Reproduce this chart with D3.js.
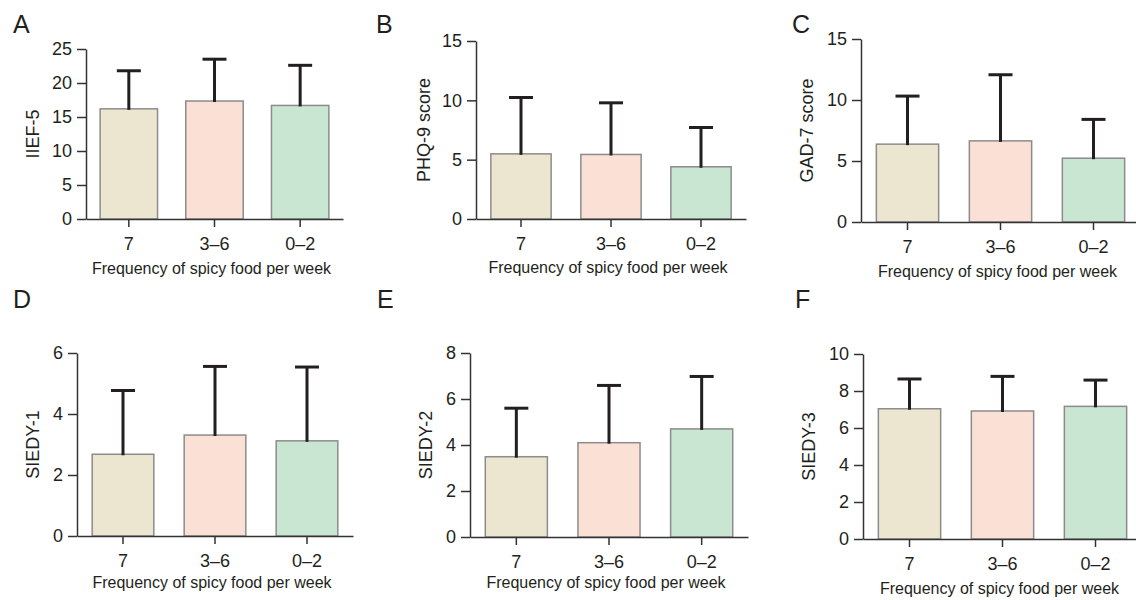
<!DOCTYPE html>
<html>
<head>
<meta charset="utf-8">
<script src="https://cdn.jsdelivr.net/npm/d3@7"></script>
<style>
  body { margin: 0; background: #fff; }
  svg { display: block; font-family: "Liberation Sans", Arial, sans-serif; }
  .axis path, .axis line { stroke: #333; stroke-width: 1.5; }
  .axis text { fill: #231f20; }
</style>
</head>
<body>
<svg id="chart" width="1136" height="600"></svg>
<script>
// categories and colours
const categories = ["7", "3–6", "0–2"];
const barColors = ["#ece6d0", "#fbe0d6", "#c9e6d2"];
const xTitle = "Frequency of spicy food per week";

// mean and SD per panel
const iiefMean = [16.2, 17.35, 16.7];
const iiefSd = [5.6, 6.15, 5.9];
const phqMean = [5.49, 5.44, 4.4];
const phqSd = [4.75, 4.35, 3.31];
const gadMean = [6.38, 6.65, 5.23];
const gadSd = [3.94, 5.42, 3.18];
const siedy1Mean = [2.68, 3.31, 3.12];
const siedy1Sd = [2.09, 2.25, 2.42];
const siedy2Mean = [3.49, 4.1, 4.7];
const siedy2Sd = [2.11, 2.49, 2.28];
const siedy3Mean = [7.04, 6.92, 7.17];
const siedy3Sd = [1.61, 1.87, 1.42];

// y ticks
const ticksA = [0, 5, 10, 15, 20, 25];
const ticksBC = [0, 5, 10, 15];
const ticksD = [0, 2, 4, 6];
const ticksE = [0, 2, 4, 6, 8];
const ticksF = [0, 2, 4, 6, 8, 10];

const panels = [
  { letter: "A", title: "IIEF-5", mean: iiefMean, sd: iiefSd, ticks: ticksA,
    x0: 86, x1: 343, top: 49, bottom: 219, lx: 13, ly: 33, yOff: 53, xOff: 55 },
  { letter: "B", title: "PHQ-9 score", mean: phqMean, sd: phqSd, ticks: ticksBC,
    x0: 476, x1: 746, top: 41, bottom: 219, lx: 376, ly: 33, yOff: 52, xOff: 54 },
  { letter: "C", title: "GAD-7 score", mean: gadMean, sd: gadSd, ticks: ticksBC,
    x0: 861, x1: 1140, top: 39, bottom: 222, lx: 792, ly: 33, yOff: 54, xOff: 55 },
  { letter: "D", title: "SIEDY-1", mean: siedy1Mean, sd: siedy1Sd, ticks: ticksD,
    x0: 77, x1: 353, top: 353, bottom: 536, lx: 13, ly: 308, yOff: 44, xOff: 52 },
  { letter: "E", title: "SIEDY-2", mean: siedy2Mean, sd: siedy2Sd, ticks: ticksE,
    x0: 470, x1: 748, top: 353, bottom: 537, lx: 377, ly: 308, yOff: 44, xOff: 51 },
  { letter: "F", title: "SIEDY-3", mean: siedy3Mean, sd: siedy3Sd, ticks: ticksF,
    x0: 863, x1: 1142, top: 354, bottom: 539, lx: 795, ly: 308, yOff: 54, xOff: 55 }
];

const svg = d3.select("#chart");

panels.forEach((p) => {
  const g = svg.append("g");

  const x = d3.scaleBand()
    .domain(categories)
    .range([p.x0, p.x1])
    .paddingInner(0.33)
    .paddingOuter(0.165);

  const y = d3.scaleLinear()
    .domain([0, d3.max(p.ticks)])
    .range([p.bottom, p.top]);

  const rows = categories.map((c, i) => ({ cat: c, mean: p.mean[i], sd: p.sd[i], color: barColors[i] }));

  // bars
  g.selectAll(".bar")
    .data(rows)
    .join("rect")
    .attr("class", "bar")
    .attr("x", (d) => x(d.cat))
    .attr("y", (d) => y(d.mean))
    .attr("width", x.bandwidth())
    .attr("height", (d) => p.bottom - y(d.mean))
    .attr("fill", (d) => d.color)
    .attr("stroke", "#8c8c8c")
    .attr("stroke-width", 1.5);

  // error bars (upper only)
  const cx = (d) => x(d.cat) + x.bandwidth() / 2;
  g.selectAll(".err")
    .data(rows)
    .join("line")
    .attr("class", "err")
    .attr("x1", cx).attr("x2", cx)
    .attr("y1", (d) => y(d.mean) + 1)
    .attr("y2", (d) => y(d.mean + d.sd))
    .attr("stroke", "#231f20")
    .attr("stroke-width", 3);
  g.selectAll(".cap")
    .data(rows)
    .join("line")
    .attr("class", "cap")
    .attr("x1", (d) => cx(d) - 12).attr("x2", (d) => cx(d) + 12)
    .attr("y1", (d) => y(d.mean + d.sd))
    .attr("y2", (d) => y(d.mean + d.sd))
    .attr("stroke", "#231f20")
    .attr("stroke-width", 3);

  // axes
  g.append("g")
    .attr("class", "axis")
    .attr("transform", `translate(${p.x0},0)`)
    .call(d3.axisLeft(y).tickValues(p.ticks).tickFormat(d3.format("d"))
      .tickSize(9).tickSizeOuter(0).tickPadding(5))
    .attr("font-size", 18)
    .attr("font-family", "'Liberation Sans', Arial, sans-serif");

  g.append("g")
    .attr("class", "axis")
    .attr("transform", `translate(0,${p.bottom})`)
    .call(d3.axisBottom(x).tickSize(8).tickSizeOuter(0).tickPadding(10))
    .attr("font-size", 18)
    .attr("font-family", "'Liberation Sans', Arial, sans-serif");

  // axis titles
  g.append("text")
    .attr("transform", `translate(${p.x0 - p.yOff},${(p.top + p.bottom) / 2}) rotate(-90)`)
    .attr("text-anchor", "middle")
    .attr("dy", "0.35em")
    .attr("font-size", 18)
    .attr("fill", "#231f20")
    .text(p.title);

  g.append("text")
    .attr("x", x(categories[1]) + x.bandwidth() / 2 - 3)
    .attr("y", p.bottom + p.xOff)
    .attr("text-anchor", "middle")
    .attr("font-size", 16)
    .attr("fill", "#231f20")
    .text(xTitle);

  // panel letter
  g.append("text")
    .attr("x", p.lx)
    .attr("y", p.ly)
    .attr("font-size", 25)
    .attr("fill", "#231f20")
    .text(p.letter);
});
</script>
</body>
</html>
